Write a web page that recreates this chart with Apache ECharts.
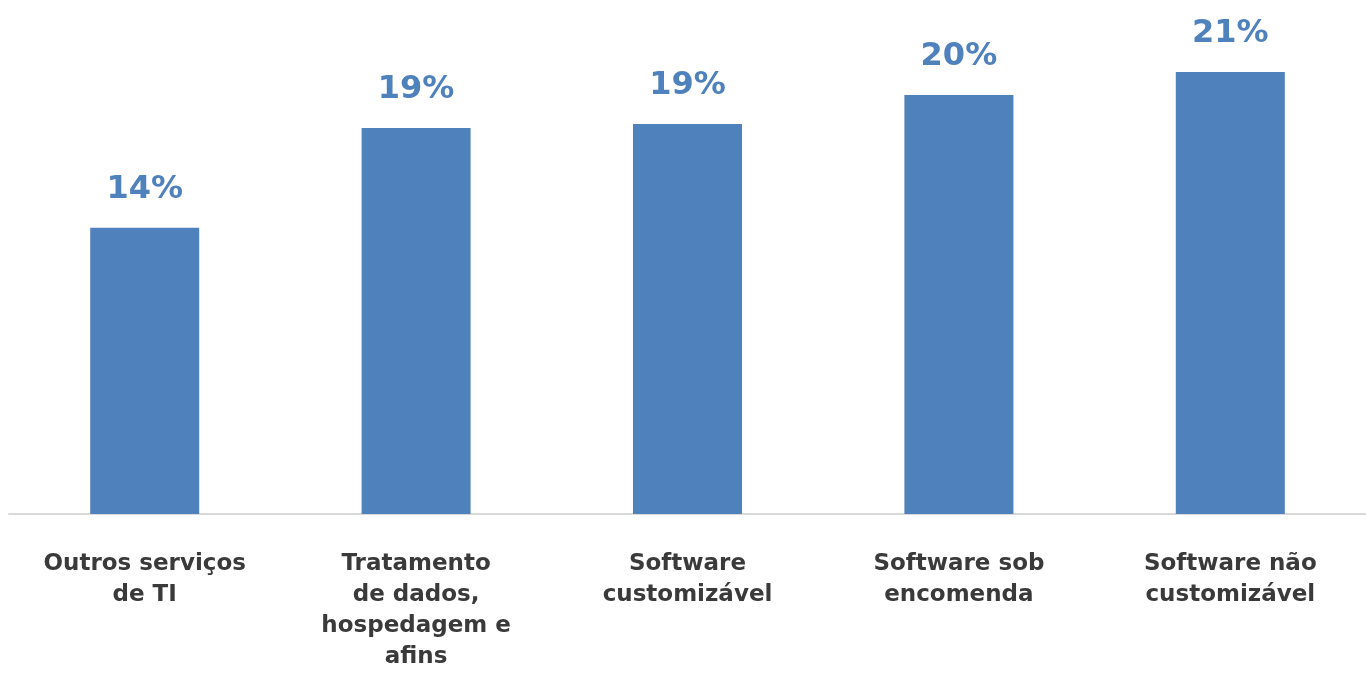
<!DOCTYPE html>
<html>
<head>
<meta charset="utf-8">
<script src="https://cdn.jsdelivr.net/npm/echarts@6/dist/echarts.min.js"></script>
<style>
html,body{margin:0;padding:0;background:#fff;}
#chart{width:1366px;height:673px;}
</style>
</head>
<body>
<div id="chart"></div>
<script>
var categories = [
  "Outros serviços\nde TI",
  "Tratamento\nde dados,\nhospedagem e\nafins",
  "Software\ncustomizável",
  "Software sob\nencomenda",
  "Software não\ncustomizável"
];
var values = [13.8, 18.6, 18.8, 20.2, 21.3];

var chart = echarts.init(document.getElementById('chart'));
chart.setOption({
  animation: false,
  grid: { left: 9, right: -12, top: 20, bottom: 152, containLabel: false },
  xAxis: {
    type: 'category',
    data: categories,
    axisLine: { lineStyle: { color: '#d9d9d9', width: 2 } },
    axisTick: { show: false },
    axisLabel: {
      interval: 0,
      margin: 35,
      color: '#3a3a3a',
      fontFamily: 'DejaVu Sans',
      fontWeight: 'bold',
      fontSize: 23,
      lineHeight: 31
    }
  },
  yAxis: {
    type: 'value',
    min: 0,
    max: 23.81,
    show: false,
    splitLine: { show: false }
  },
  series: [{
    type: 'bar',
    data: values,
    barWidth: 109,
    itemStyle: { color: '#4F81BD' },
    label: {
      show: true,
      position: 'top',
      distance: 22,
      color: '#4F81BD',
      fontFamily: 'DejaVu Sans',
      fontWeight: 'bold',
      fontSize: 32,
      formatter: function (p) { return Math.round(p.value) + '%'; }
    }
  }]
});
</script>
</body>
</html>
